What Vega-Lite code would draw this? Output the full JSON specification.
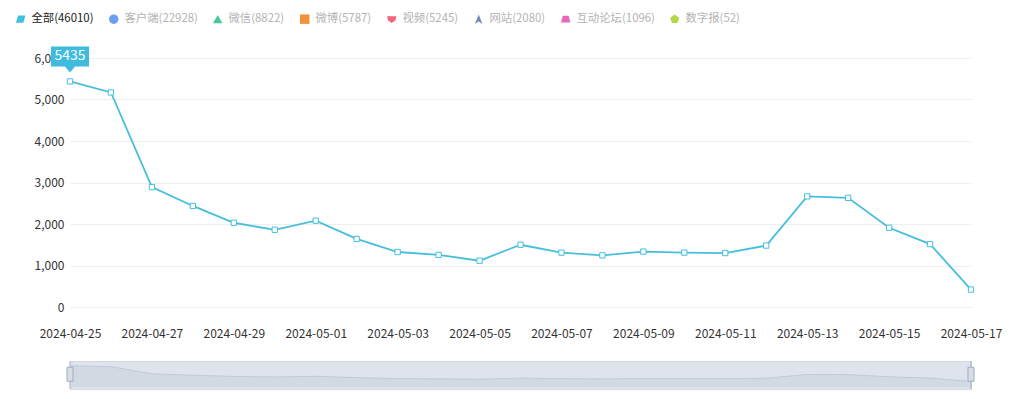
{
  "$schema": "https://vega.github.io/schema/vega-lite/v6.json",
  "padding": {"left": 15, "top": 13, "right": 5, "bottom": 3},
  "background": "white",
  "config": {
    "font": "Noto Sans CJK SC",
    "view": {"stroke": null},
    "axis": {"labelFont": "Noto Sans CJK SC", "labelFontSize": 12, "labelColor": "#333333"}
  },
  "datasets": {
    "main": [
      {"date": "2024-04-25", "value": 5435, "series": "全部(46010)"},
      {"date": "2024-04-26", "value": 5170, "series": "全部(46010)"},
      {"date": "2024-04-27", "value": 2890, "series": "全部(46010)"},
      {"date": "2024-04-28", "value": 2435, "series": "全部(46010)"},
      {"date": "2024-04-29", "value": 2030, "series": "全部(46010)"},
      {"date": "2024-04-30", "value": 1860, "series": "全部(46010)"},
      {"date": "2024-05-01", "value": 2080, "series": "全部(46010)"},
      {"date": "2024-05-02", "value": 1640, "series": "全部(46010)"},
      {"date": "2024-05-03", "value": 1325, "series": "全部(46010)"},
      {"date": "2024-05-04", "value": 1255, "series": "全部(46010)"},
      {"date": "2024-05-05", "value": 1115, "series": "全部(46010)"},
      {"date": "2024-05-06", "value": 1500, "series": "全部(46010)"},
      {"date": "2024-05-07", "value": 1310, "series": "全部(46010)"},
      {"date": "2024-05-08", "value": 1245, "series": "全部(46010)"},
      {"date": "2024-05-09", "value": 1335, "series": "全部(46010)"},
      {"date": "2024-05-10", "value": 1310, "series": "全部(46010)"},
      {"date": "2024-05-11", "value": 1300, "series": "全部(46010)"},
      {"date": "2024-05-12", "value": 1480, "series": "全部(46010)"},
      {"date": "2024-05-13", "value": 2665, "series": "全部(46010)"},
      {"date": "2024-05-14", "value": 2630, "series": "全部(46010)"},
      {"date": "2024-05-15", "value": 1910, "series": "全部(46010)"},
      {"date": "2024-05-16", "value": 1515, "series": "全部(46010)"},
      {"date": "2024-05-17", "value": 420, "series": "全部(46010)"}
    ]
  },
  "spacing": 21,
  "resolve": {"scale": {"x": "independent", "y": "independent"}},
  "vconcat": [
    {
      "width": 901,
      "height": 249,
      "data": {"name": "main"},
      "encoding": {
        "x": {
          "field": "date", "type": "ordinal",
          "scale": {"type": "point", "padding": 0},
          "axis": {
            "title": null, "labelAngle": 0, "domain": false, "ticks": false, "tickSize": 0,
            "labelPadding": 21, "grid": false,
            "values": ["2024-04-25", "2024-04-27", "2024-04-29", "2024-05-01", "2024-05-03", "2024-05-05", "2024-05-07", "2024-05-09", "2024-05-11", "2024-05-13", "2024-05-15", "2024-05-17"]
          }
        },
        "y": {
          "field": "value", "type": "quantitative",
          "scale": {"domain": [0, 6000]},
          "axis": {
            "title": null, "values": [0, 1000, 2000, 3000, 4000, 5000, 6000], "format": ",d",
            "domain": false, "ticks": false, "tickSize": 0, "labelPadding": 6,
            "grid": true, "gridColor": "#eeeeee"
          }
        }
      },
      "layer": [
        {"mark": {"type": "line", "color": "#45bfdc", "strokeWidth": 1.8}},
        {"mark": {"type": "point", "shape": "square", "size": 28, "filled": true, "fill": "white", "stroke": "#45bfdc", "strokeWidth": 1, "opacity": 1}},
        {
          "mark": {"type": "point", "filled": true, "opacity": 0},
          "encoding": {
            "color": {
              "field": "series", "type": "nominal",
              "scale": {
                "domain": ["全部(46010)", "客户端(22928)", "微信(8822)", "微博(5787)", "视频(5245)", "网站(2080)", "互动论坛(1096)", "数字报(52)"],
                "range": ["#3fc0dc", "#6c9ef3", "#4cc79b", "#f0913c", "#f0677a", "#7489bd", "#e56cb4", "#b5d64a"]
              },
              "legend": {
                "orient": "none", "legendX": -55, "legendY": -45,
                "direction": "horizontal", "columns": 8, "title": null,
                "columnPadding": 14, "labelOffset": 5, "symbolSize": 90,
                "symbolOpacity": 1, "symbolStrokeWidth": 0,
                "labelFont": "Noto Sans CJK SC", "labelFontSize": 11.4,
                "encode": {
                  "symbols": {"update": {"opacity": {"value": 1}}},
                  "labels": {"update": {"fill": {"signal": "datum.value === '全部(46010)' ? '#222222' : '#b3b3b3'"}}}
                }
              }
            },
            "shape": {
              "field": "series", "type": "nominal",
              "scale": {
                "domain": ["全部(46010)", "客户端(22928)", "微信(8822)", "微博(5787)", "视频(5245)", "网站(2080)", "互动论坛(1096)", "数字报(52)"],
                "range": [
                  "M-0.55,-0.75 L1,-0.75 L0.55,0.75 L-1,0.75 Z",
                  "circle",
                  "triangle-up",
                  "square",
                  "M-1,-0.6 L1,-0.6 L0.75,0.3 L0,0.8 L-0.75,0.3 Z",
                  "M0,-1 L0.8,1 L0,0.5 L-0.8,1 Z",
                  "M-0.6,-0.7 L0.6,-0.7 L1,0.7 L-1,0.7 Z",
                  "M0,-1 L0.95,-0.31 L0.59,0.81 L-0.59,0.81 L-0.95,-0.31 Z"
                ]
              }
            }
          }
        },
        {
          "transform": [{"filter": "datum.date == '2024-04-25'"}],
          "mark": {"type": "point", "shape": "M-19,-35 H19 V-15 H5 L0,-9 L-5,-15 H-19 Z", "size": 4, "filled": true, "color": "#3fbbe0", "opacity": 1}
        },
        {
          "transform": [{"filter": "datum.date == '2024-04-25'"}],
          "mark": {"type": "text", "dy": -25, "color": "white", "fontSize": 14, "baseline": "middle", "align": "center", "font": "Noto Sans CJK SC"},
          "encoding": {"text": {"field": "value", "type": "quantitative", "format": "d"}}
        }
      ]
    },
    {
      "width": 901,
      "height": 28,
      "data": {"name": "main"},
      "view": {"fill": "#dfe4ec", "stroke": "#d3d9e2"},
      "encoding": {
        "x": {"field": "date", "type": "ordinal", "scale": {"type": "point", "padding": 0}, "axis": null}
      },
      "layer": [
        {
          "mark": {"type": "area", "color": "#cdd4df", "line": {"color": "#c3cad6", "strokeWidth": 1}},
          "encoding": {
            "y": {"field": "value", "type": "quantitative", "scale": {"domain": [-1400, 6900]}, "axis": null},
            "y2": {"datum": -1400}
          }
        },
        {
          "transform": [{"filter": "datum.date == '2024-04-25' || datum.date == '2024-05-17'"}],
          "mark": {"type": "rule", "color": "#a7b1c0", "strokeWidth": 1}
        },
        {
          "transform": [{"filter": "datum.date == '2024-04-25' || datum.date == '2024-05-17'"}],
          "mark": {"type": "point", "shape": "M-3,-7 H3 V7 H-3 Z", "size": 4, "filled": true, "fill": "#d8dee6", "stroke": "#a3adbc", "strokeWidth": 1, "opacity": 1},
          "encoding": {"y": {"datum": 2750, "type": "quantitative"}}
        }
      ]
    }
  ]
}
